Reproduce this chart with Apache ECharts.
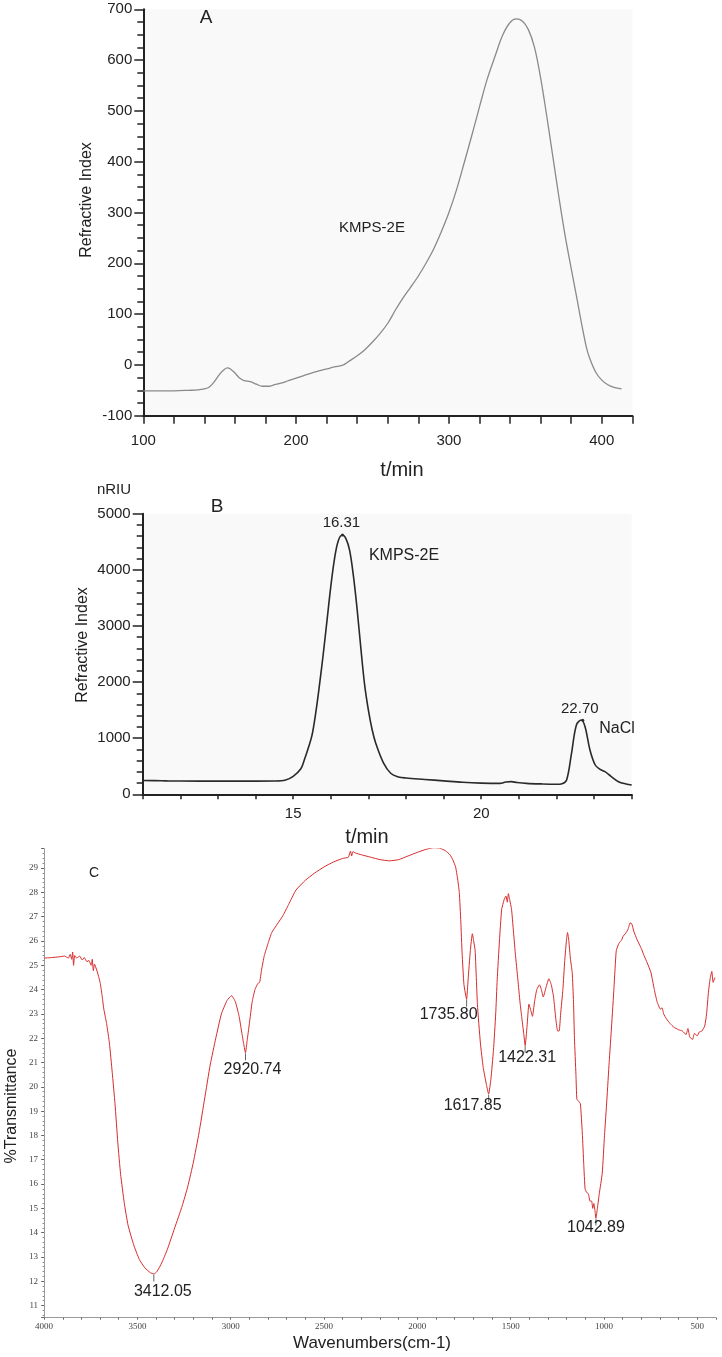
<!DOCTYPE html>
<html>
<head>
<meta charset="utf-8">
<script src="https://cdn.jsdelivr.net/npm/echarts@6/dist/echarts.min.js"></script>
<style>
html,body{margin:0;padding:0;background:#fff;}
#chart{width:722px;height:1357px;}
</style>
</head>
<body>
<div id="chart"></div>
<script>
// ---------- Panel A : SEC (t/min vs Refractive Index) ----------
const aTime = [100,110,120,130,136,140,143,146,150,153,155,157,160,163,166,170,174,178,182,186,190,195,200,205,210,215,220,225,231,235,240,245,250,255,260,265,270,275,280,285,290,295,300,305,310,315,320,325,330,335,340,344,348,352,356,360,364,368,372,376,380,384,386,388,390,392,396,400,404,408,413];
const aSignal = [-51,-51,-51,-50,-49,-47,-44,-35,-18,-9,-6,-8,-16,-26,-31,-33,-38,-42,-42,-39,-36,-31,-26,-21,-16,-12,-8,-4,0,8,18,30,45,62,82,108,132,153,175,200,228,262,300,345,398,452,508,562,606,648,674,681,677,660,625,565,490,410,330,255,190,127,94,63,34,14,-14,-30,-39,-44,-47];
const aXLabels = [100,200,300,400];

// ---------- Panel B : HPGPC (t/min vs nRIU) ----------
const bTime = [11,11.5,11.7,12,13,14,14.5,14.8,15,15.2,15.3,15.4,15.5,15.6,15.7,15.8,15.9,16,16.1,16.2,16.31,16.4,16.5,16.6,16.7,16.8,16.9,17,17.1,17.2,17.4,17.6,17.8,18,18.5,19,19.5,20,20.5,20.65,20.8,20.95,21.2,21.6,22,22.15,22.27,22.4,22.53,22.66,22.76,22.89,23.03,23.15,23.29,23.45,23.65,23.85,24];
const bSignal = [245,242,237,236,235,235,237,255,320,450,620,820,1050,1450,1950,2500,3100,3700,4200,4520,4620,4560,4350,3900,3300,2600,1950,1500,1150,900,560,370,310,290,265,240,215,200,195,220,225,210,195,185,180,190,255,730,1235,1325,1205,790,522,450,403,320,225,185,166];
const bPeakTime = [16.31, 22.70];
const bPeakSignal = [4620, 1320];
const bPeakLabels = ['16.31', '22.70'];
const bXLabels = [15, 20];

// ---------- Panel C : FT-IR spectrum ----------
const cWave = [4000,3960,3920,3890,3870,3860,3852,3847,3842,3836,3825,3810,3795,3785,3770,3760,3748,3742,3736,3730,3720,3710,3700,3690,3680,3665,3650,3635,3620,3605,3590,3570,3550,3520,3490,3460,3430,3412,3395,3370,3340,3300,3260,3230,3200,3170,3140,3110,3080,3050,3020,2995,2975,2955,2940,2930,2921,2912,2900,2885,2870,2855,2845,2835,2820,2800,2780,2750,2720,2690,2650,2600,2550,2500,2450,2400,2370,2358,2352,2345,2330,2300,2250,2200,2150,2100,2050,2000,1950,1910,1880,1850,1825,1810,1795,1785,1775,1767,1760,1750,1736,1728,1716,1705,1698,1690,1678,1662,1647,1630,1618,1606,1592,1580,1572,1560,1548,1535,1525,1518,1512,1505,1495,1486,1475,1461,1450,1441,1430,1422,1412,1402,1394,1383,1372,1360,1345,1335,1325,1310,1295,1282,1270,1258,1248,1240,1232,1220,1210,1200,1195,1188,1180,1170,1163,1158,1150,1145,1135,1126,1116,1108,1101,1092,1083,1075,1066,1060,1054,1048,1043,1035,1025,1009,997,984,972,959,946,934,920,905,897,885,870,860,850,840,822,800,785,768,748,730,715,698,688,680,665,645,625,600,580,560,550,540,525,515,500,490,475,460,450,440,430,422,415,405];
const cTrans = [25.30,25.32,25.35,25.38,25.30,25.45,25.25,25.55,25.00,25.40,25.30,25.38,25.22,25.32,25.15,25.20,25.00,25.25,24.78,25.05,24.85,24.60,24.30,23.80,23.20,22.60,21.80,20.60,19.30,17.70,16.40,15.20,14.30,13.50,12.90,12.55,12.35,12.30,12.40,12.75,13.30,14.20,15.10,15.90,16.90,18.10,19.50,20.90,22.00,23.00,23.55,23.75,23.50,22.90,22.20,21.75,21.40,21.90,22.60,23.50,24.00,24.25,24.30,24.80,25.40,25.90,26.35,26.70,27.05,27.50,28.10,28.50,28.80,29.05,29.25,29.40,29.45,29.70,29.50,29.68,29.62,29.55,29.45,29.35,29.30,29.35,29.50,29.65,29.78,29.84,29.82,29.72,29.55,29.35,29.05,28.60,28.00,26.80,25.50,24.20,23.60,24.40,25.60,26.30,26.00,25.60,23.40,21.80,20.80,20.10,19.70,20.30,21.50,23.00,24.40,26.00,27.30,27.70,27.85,27.60,27.95,27.70,27.30,26.50,25.50,24.40,23.50,22.90,22.20,21.70,22.50,23.40,23.20,22.90,23.50,24.00,24.20,24.00,23.70,24.10,24.45,24.20,23.70,22.80,22.30,22.30,23.00,24.00,25.20,26.10,26.35,26.00,25.30,24.70,23.50,22.00,20.50,19.50,19.40,19.30,18.10,16.80,15.80,15.65,15.60,15.30,15.30,15.00,15.20,14.90,14.60,15.00,15.60,16.45,18.00,19.50,21.00,22.50,24.10,25.60,25.90,26.05,26.20,26.30,26.50,26.75,26.70,26.40,26.05,25.70,25.40,25.10,24.70,24.00,23.50,23.20,23.25,23.00,22.80,22.60,22.45,22.35,22.30,22.15,22.40,22.05,21.95,22.20,22.10,22.25,22.30,22.50,23.00,23.90,24.50,24.75,24.30,24.50];
const cPeakWave = [3412.05, 2920.74, 1735.80, 1617.85, 1422.31, 1042.89];
const cPeakTrans = [12.30, 21.40, 23.60, 19.70, 21.70, 14.60];
const cPeakLabels = ['3412.05', '2920.74', '1735.80', '1617.85', '1422.31', '1042.89'];
const cXLabels = [4000,3500,3000,2500,2000,1500,1000,500];
const cYLabels = [11,12,13,14,15,16,17,18,19,20,21,22,23,24,25,26,27,28,29];

// ---------- layout (pixel styling only) ----------
const cPeakLabelOffset = [[9,10],[7,9],[-18,7],[-16,3],[2,4],[0,2]];
const bPeakLabelOffset = [[-1,-3],[-3,-2]];

const FONT = 'Liberation Sans, Arial, Helvetica, sans-serif';
const SERIF = 'Liberation Serif, Times New Roman, serif';
const INK = '#222';

const zip = (xs, ys) => xs.map((x, i) => [x, ys[i]]);
const has = (arr, v) => arr.some(a => Math.abs(a - v) < 1e-6);

function txt(text, x, y, size, rot, family, color) {
  return {
    type: 'text', x: x, y: y, rotation: rot || 0, silent: true,
    style: { text: text, fill: color || INK, fontSize: size, fontFamily: family || FONT,
             align: 'center', verticalAlign: 'middle' }
  };
}

const chart = echarts.init(document.getElementById('chart'), null, {renderer: 'canvas'});

const darkAxis = {
  axisLine: { show: true, onZero: false, lineStyle: { color: INK, width: 2 } },
  splitLine: { show: false }
};

const option = {
  animation: false,
  backgroundColor: '#ffffff',
  grid: [
    { left: 143.3, top: 9.3, width: 489, height: 406.4, show: true, backgroundColor: '#f9f9f9', borderWidth: 0 },
    { left: 142.7, top: 513.7, width: 489, height: 280.6, show: true, backgroundColor: '#f9f9f9', borderWidth: 0 },
    { left: 44.1, top: 848.7, width: 671.8, height: 469, show: false }
  ],
  xAxis: [
    Object.assign({}, darkAxis, {
      type: 'value', gridIndex: 0, min: 100, max: 420, interval: 20,
      axisTick: { show: true, length: 8, lineStyle: { color: INK, width: 1.5 } },
      axisLabel: { margin: 18, fontSize: 15, color: INK, fontFamily: FONT,
                   formatter: v => has(aXLabels, v) ? String(v) : '' }
    }),
    Object.assign({}, darkAxis, {
      type: 'value', gridIndex: 1, min: 11, max: 24, interval: 1,
      axisTick: { show: true, length: 5, lineStyle: { color: INK, width: 1.5 } },
      axisLabel: { margin: 12, fontSize: 15, color: INK, fontFamily: FONT,
                   formatter: v => has(bXLabels, v) ? String(v) : '' }
    }),
    {
      type: 'value', gridIndex: 2, min: 400, max: 4000, interval: 100, inverse: true,
      axisLine: { show: true, onZero: false, lineStyle: { color: '#9a9a9a', width: 1 } },
      axisTick: { show: true, length: 2, lineStyle: { color: '#666', width: 1 } },
      splitLine: { show: false },
      axisLabel: { margin: 4, fontSize: 9, color: '#444', fontFamily: SERIF,
                   formatter: v => has(cXLabels, v) ? String(v) : '' }
    }
  ],
  yAxis: [
    Object.assign({}, darkAxis, {
      type: 'value', gridIndex: 0, min: -100, max: 700, interval: 100,
      axisTick: { show: true, length: 9, lineStyle: { color: INK, width: 1.5 } },
      minorTick: { show: true, splitNumber: 4, length: 6, lineStyle: { color: INK, width: 1.5 } },
      axisLabel: { margin: 11, fontSize: 15, color: INK, fontFamily: FONT, formatter: v => String(v) }
    }),
    Object.assign({}, darkAxis, {
      type: 'value', gridIndex: 1, min: 0, max: 5000, interval: 1000,
      axisTick: { show: true, length: 10, lineStyle: { color: INK, width: 1.5 } },
      minorTick: { show: true, splitNumber: 5, length: 6, lineStyle: { color: INK, width: 1.5 } },
      axisLabel: { margin: 12, fontSize: 15, color: INK, fontFamily: FONT, formatter: v => String(v) }
    }),
    {
      type: 'value', gridIndex: 2, min: 10.5, max: 29.8, splitNumber: 19,
      axisLine: { show: true, onZero: false, lineStyle: { color: '#9a9a9a', width: 1 } },
      axisTick: { show: true, length: 3, lineStyle: { color: '#666', width: 1 } },
      minorTick: { show: true, splitNumber: 5, length: 1.5, lineStyle: { color: '#888', width: 1 } },
      splitLine: { show: false },
      axisLabel: { margin: 6, fontSize: 9, color: '#444', fontFamily: SERIF,
                   formatter: v => has(cYLabels, v) ? String(Math.round(v)) : '' }
    }
  ],
  series: [
    {
      type: 'line', xAxisIndex: 0, yAxisIndex: 0, data: zip(aTime, aSignal),
      showSymbol: false, smooth: 0.35, lineStyle: { color: '#8a8a8a', width: 1.3 }
    },
    {
      type: 'line', xAxisIndex: 1, yAxisIndex: 1, data: zip(bTime, bSignal),
      showSymbol: false, smooth: 0.35, lineStyle: { color: '#2a2a2a', width: 1.6 }
    },
    {
      type: 'scatter', xAxisIndex: 1, yAxisIndex: 1,
      data: bPeakTime.map((t, i) => ({
        value: [t, bPeakSignal[i]],
        label: { offset: bPeakLabelOffset[i] }
      })),
      symbolSize: 3, itemStyle: { color: '#333', opacity: 1 },
      label: { show: true, position: 'top', distance: 0, color: INK, fontSize: 15, fontFamily: FONT,
               textBorderWidth: 0, formatter: p => bPeakLabels[p.dataIndex] }
    },
    {
      type: 'line', xAxisIndex: 2, yAxisIndex: 2, data: zip(cWave, cTrans),
      showSymbol: false, smooth: 0.15, lineStyle: { color: '#d62b2b', width: 1 }
    },
    {
      type: 'scatter', xAxisIndex: 2, yAxisIndex: 2,
      data: zip(cPeakWave, cPeakTrans),
      symbol: 'rect', symbolSize: [1, 7], symbolOffset: [0, 4],
      itemStyle: { color: '#666', opacity: 1 }
    },
    {
      type: 'scatter', xAxisIndex: 2, yAxisIndex: 2,
      data: cPeakWave.map((w, i) => ({
        value: [w, cPeakTrans[i]],
        label: { offset: cPeakLabelOffset[i] }
      })),
      symbolSize: 0, itemStyle: { opacity: 1 },
      label: { show: true, position: 'bottom', distance: 0, color: INK, fontSize: 16, fontFamily: FONT,
               textBorderWidth: 0, formatter: p => cPeakLabels[p.dataIndex] }
    }
  ],
  graphic: [
    // panel A
    txt('A', 206, 18, 19),
    txt('KMPS-2E', 372, 228, 15),
    txt('Refractive Index', 87, 200, 16, Math.PI / 2),
    txt('t/min', 402, 470, 20),
    // panel B
    txt('nRIU', 114, 490, 15),
    txt('B', 217, 507, 19),
    txt('KMPS-2E', 404, 556, 16),
    txt('NaCl', 617, 729, 16),
    txt('Refractive Index', 83, 645, 16, Math.PI / 2),
    txt('t/min', 367, 837, 20),
    // panel C
    txt('C', 94, 873, 14),
    txt('%Transmittance', 12, 1106, 16, Math.PI / 2),
    txt('Wavenumbers(cm-1)', 372, 1343, 17)
  ]
};

chart.setOption(option);
</script>
</body>
</html>
